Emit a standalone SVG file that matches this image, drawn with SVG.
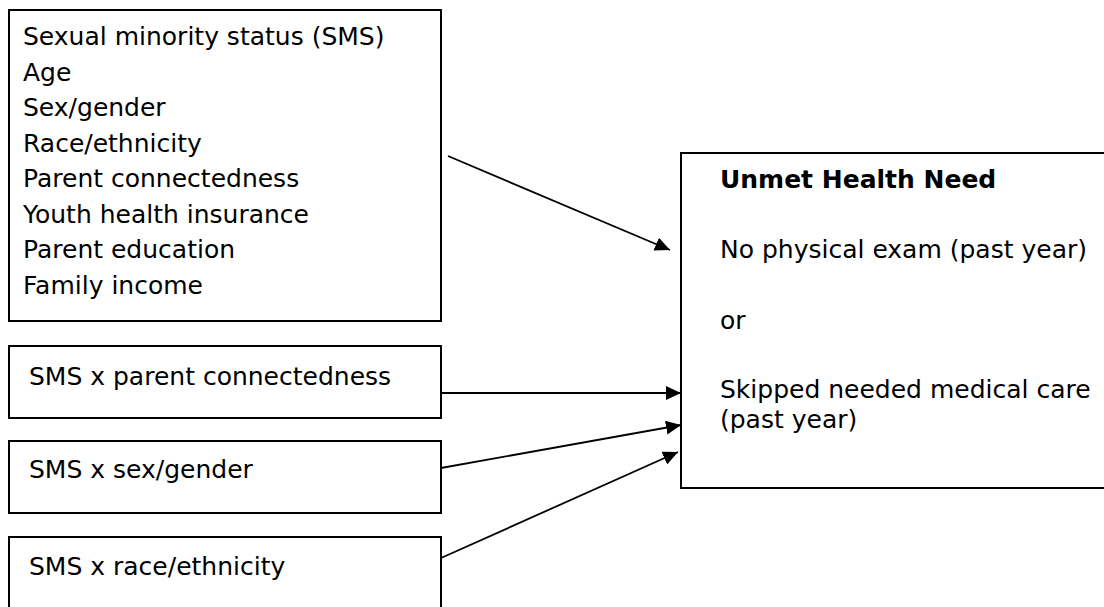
<svg xmlns="http://www.w3.org/2000/svg" width="1104" height="607" viewBox="0 0 1104 607">
<defs>
<style>
.box{fill:#fff;stroke:#000;stroke-width:2}
.t{font-family:"DejaVu Sans",sans-serif;font-size:25px;fill:#000}
.b{font-weight:bold}
.c{stroke:#000;stroke-width:1.8;fill:none;marker-end:url(#ah)}
</style>
<marker id="ah" viewBox="0 0 15 14" refX="15" refY="7" markerWidth="15" markerHeight="14" markerUnits="userSpaceOnUse" orient="auto">
<path d="M0,0 L15,7 L0,14 Z" fill="#000"/>
</marker>
</defs>
<rect width="1104" height="607" fill="#fff"/>
<g id="covariates">
<rect class="box" x="9" y="10" width="432" height="311"/>
<text class="t" x="23" y="45">Sexual minority status (SMS)</text>
<text class="t" x="23" y="80.5">Age</text>
<text class="t" x="23" y="116">Sex/gender</text>
<text class="t" x="23" y="151.5">Race/ethnicity</text>
<text class="t" x="23" y="187">Parent connectedness</text>
<text class="t" x="23" y="222.5">Youth health insurance</text>
<text class="t" x="23" y="258">Parent education</text>
<text class="t" x="23" y="293.5">Family income</text>
</g>
<g id="sms-parent">
<rect class="box" x="9" y="346" width="432" height="72"/>
<text class="t" x="29" y="385">SMS x parent connectedness</text>
</g>
<g id="sms-sex">
<rect class="box" x="9" y="441" width="432" height="72"/>
<text class="t" x="29" y="478">SMS x sex/gender</text>
</g>
<g id="sms-race">
<rect class="box" x="9" y="537" width="432" height="80"/>
<text class="t" x="29" y="575">SMS x race/ethnicity</text>
</g>
<g id="outcome">
<rect class="box" x="681" y="153" width="440" height="335"/>
<text class="t b" x="720" y="188">Unmet Health Need</text>
<text class="t" x="720" y="258">No physical exam (past year)</text>
<text class="t" x="720" y="329">or</text>
<text class="t" x="720" y="398">Skipped needed medical care</text>
<text class="t" x="720" y="428">(past year)</text>
</g>
<g id="connectors">
<line class="c" x1="448" y1="156" x2="670" y2="250"/>
<line class="c" x1="441" y1="393" x2="681" y2="393"/>
<line class="c" x1="441" y1="468" x2="681" y2="425"/>
<line class="c" x1="441" y1="558" x2="678" y2="452"/>
</g>
</svg>
